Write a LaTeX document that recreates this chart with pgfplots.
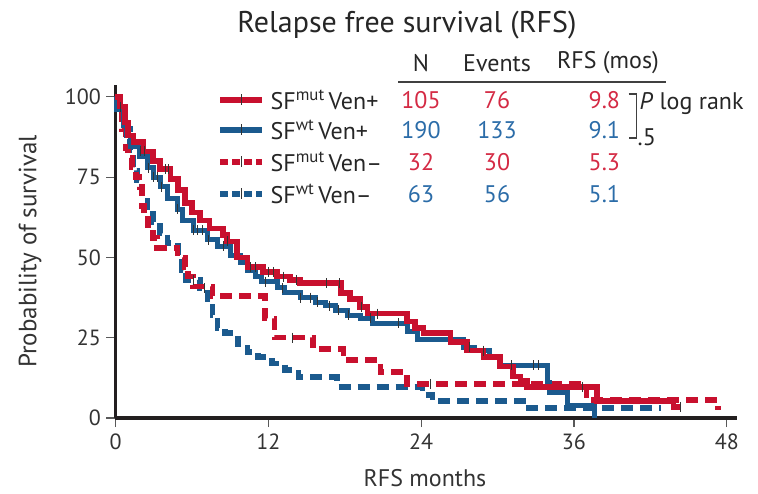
\documentclass[border=0pt]{standalone}
\usepackage{pgfplots}
\pgfplotsset{compat=1.18}
\usepackage{fontspec}
\setmainfont{PT Sans}
\definecolor{cred}{HTML}{C8102E}
\definecolor{cblue}{HTML}{1B5A8E}
\definecolor{tred}{HTML}{D42A44}
\definecolor{tblue}{HTML}{2B6CA8}
\definecolor{axgray}{HTML}{231F20}

\begin{document}
\begin{tikzpicture}[x=1pt,y=1pt]
\path[use as bounding box] (-115.5,-75) rectangle (642.5,418);
\begin{axis}[
  at={(0,0)}, anchor=south west, scale only axis,
  width=621.5pt, height=333pt,
  xmin=0, xmax=48.8, ymin=0, ymax=103.7,
  axis lines=left,
  axis line style={-, line width=3.8pt, axgray},
  xtick={0,12,24,36,48}, ytick={0,25,50,75,100},
  tick align=outside, major tick length=9pt,
  tick style={line width=1.2pt, black!65},
  ticklabel style={font=\fontsize{22}{26}\selectfont, text=black!80},
  xticklabel style={yshift=-3pt},
  yticklabel style={xshift=-2pt},
  /pgf/number format/assume math mode=true,
  xlabel={RFS months}, ylabel={Probability of survival},
  xlabel style={at={(axis description cs:0.498,-0.18)}, anchor=center, font=\fontsize{24}{28}\selectfont, text=black!80},
  ylabel style={at={(axis description cs:-0.1376,0.5)}, anchor=center, font=\fontsize{25}{29}\selectfont, text=black!80},
  clip=false,
  const plot,
]
% SF wt Ven- (blue dashed)
\addplot[cblue, line width=5.5pt, dash pattern=on 12pt off 7pt, no marks] coordinates {
(0,100)(0.1,96)(0.75,90)(1.15,83.5)(1.4,77)(1.7,74)(2.1,69)(2.5,64.5)(2.95,61)(3.5,57.5)(4.1,54.5)(4.9,50)(5.2,46)(5.55,43)(6.65,40.5)(7.25,37)(7.6,32)(8.0,28)(8.6,26.5)(9.6,23)(10.35,20.5)(11.2,19)(12.3,17)(13.3,15)(14.35,12.8)(17.4,9.7)(24.1,7.2)(24.9,5.3)(32.0,3.1)(42.8,3.1)};
% SF mut Ven- (red dashed)
\addplot[cred, line width=5.5pt, dash pattern=on 12pt off 7pt, no marks] coordinates {
(0,100)(0.2,97)(0.5,90)(0.8,84)(1.0,81)(1.3,78)(1.6,75)(1.9,72)(2.1,66)(2.25,63)(2.55,60)(2.95,56)(3.25,53)(4.85,50)(5.45,47)(5.7,44)(6.1,41)(7.6,38)(11.75,31)(12.5,25)(15.5,21.5)(17.9,18)(20.8,14.3)(22.9,10.6)(37.0,5.6)(47.3,2.5)};
% SF wt Ven+ (blue solid)
\addplot[cblue, line width=5pt, no marks] coordinates {
(0,100)(0.1,96)(0.6,91)(0.9,88)(1.15,84.5)(1.9,81.5)(2.5,78)(2.95,75)(3.5,72)(4.05,68.5)(4.85,65)(5.3,61.5)(6.1,58.5)(7.2,55.5)(8.0,53.5)(9.0,50.5)(9.8,48.5)(10.35,46)(11.0,44)(11.5,42.5)(12.7,40.5)(13.3,39)(14.5,37.5)(15.7,36)(16.5,35)(17.25,33.5)(18.2,32)(19.2,31)(20.15,29.5)(22.9,27)(23.7,24.5)(27.3,22)(28.2,21)(29.4,19)(30.2,16.5)(33.9,11)(34.1,8)(35.5,4)(37.6,0)};
% SF mut Ven+ (red solid)
\addplot[cred, line width=5.5pt, no marks] coordinates {
(0,100)(0.35,97)(0.75,92)(1.0,88)(1.4,86)(2.2,83)(2.95,80)(3.5,77.5)(4.3,74.5)(4.9,71)(5.45,67)(6.0,64)(6.65,61.5)(7.4,59)(8.45,57)(8.75,55)(9.55,50)(10.35,47)(11.6,45.5)(12.7,44)(13.7,43)(14.5,42)(17.7,39)(18.4,37)(19.2,34.5)(19.8,32.5)(22.9,30)(23.5,28)(24.2,26.5)(26.3,23.7)(27.6,21)(28.9,19)(30.2,16)(31.2,13)(31.8,11.5)(32.3,9.7)(37.8,5.3)(43.8,3.5)(44.35,3.5)};
% censor marks
\addplot[only marks, mark=|, mark size=5pt, mark options={line width=1pt, black!80}] coordinates {
(0.4,97)(2.0,83)(2.3,83)(3.9,77.5)(4.2,77.5)(8.8,55)(10.6,47)(11.0,47)(12.0,45.5)(12.4,45.5)(13.2,44)(14.2,43)(16.6,42)(17.6,42)(19.3,34.5)(20.6,32.5)(36.7,9.7)(44.4,3.5)
(2.6,78)(3.0,75)(3.3,75)(3.6,72)(4.9,65)(6.1,58.5)(6.4,58.5)(6.8,58.5)(7.3,55.5)(8.5,53.5)(11.8,42.5)(13.1,40.5)(14.5,37.5)(15.3,37.5)(15.9,36)(16.8,35)(17.5,33.5)(18.3,32)(20.0,31)(22.2,29.5)(27.8,22)(28.9,21)(31.1,16.5)(32.8,16.5)(33.2,16.5)
(13.9,25)(24.7,10.6)(6.1,43)(7.0,40.5)};
\end{axis}
% title
\node[font=\fontsize{30}{34}\selectfont, text=black!85] at (291.5,393) {Relapse free survival (RFS)};
% legend header
\begin{scope}[font=\fontsize{24}{28}\selectfont]
\node[text=black!85] at (305.5,355) {N};
\node[text=black!85] at (381.5,355) {Events};
\node[text=black!85] at (492.5,355) {RFS (mos)};
\draw[line width=1.3pt, black!75] (282.5,336) -- (550.5,336);
% rows
\foreach \yy/\lab/\n/\ev/\rfs/\tc/\lc/\ds in {
  318/{SF\textsuperscript{mut}\,Ven+}/105/76/9.8/tred/cred/0,
  288/{SF\textsuperscript{wt}\,Ven+}/190/133/9.1/tblue/cblue/0,
  256/{SF\textsuperscript{mut}\,Ven–}/32/30/5.3/tred/cred/1,
  224/{SF\textsuperscript{wt}\,Ven–}/63/56/5.1/tblue/cblue/1}{
  \ifnum\ds=0
    \draw[\lc, line width=6.5pt] (104.5,\yy) -- (146.5,\yy);
  \else
    \draw[\lc, line width=6.5pt, dash pattern=on 8pt off 4pt] (104.5,\yy) -- (146.5,\yy);
  \fi
  \draw[black!80, line width=1pt] (125.5,\yy-5) -- (125.5,\yy+6);
  \node[anchor=west, text=black!85, inner sep=0pt] at (155,\yy) {\lab};
  \node[text=\tc] at (305.5,\yy) {\n};
  \node[text=\tc] at (381.5,\yy) {\ev};
  \node[anchor=east, text=\tc] at (508,\yy) {\rfs};
}
\draw[line width=1.2pt, black!75] (513,324) -- (521,324) -- (521,280) -- (513,280);
\node[anchor=west, text=black!85, inner sep=1pt] at (523,314) {\textit{P} log rank};
\node[anchor=west, text=black!85, inner sep=1pt] at (521,281) {.5};
\end{scope}
\end{tikzpicture}
\end{document}
